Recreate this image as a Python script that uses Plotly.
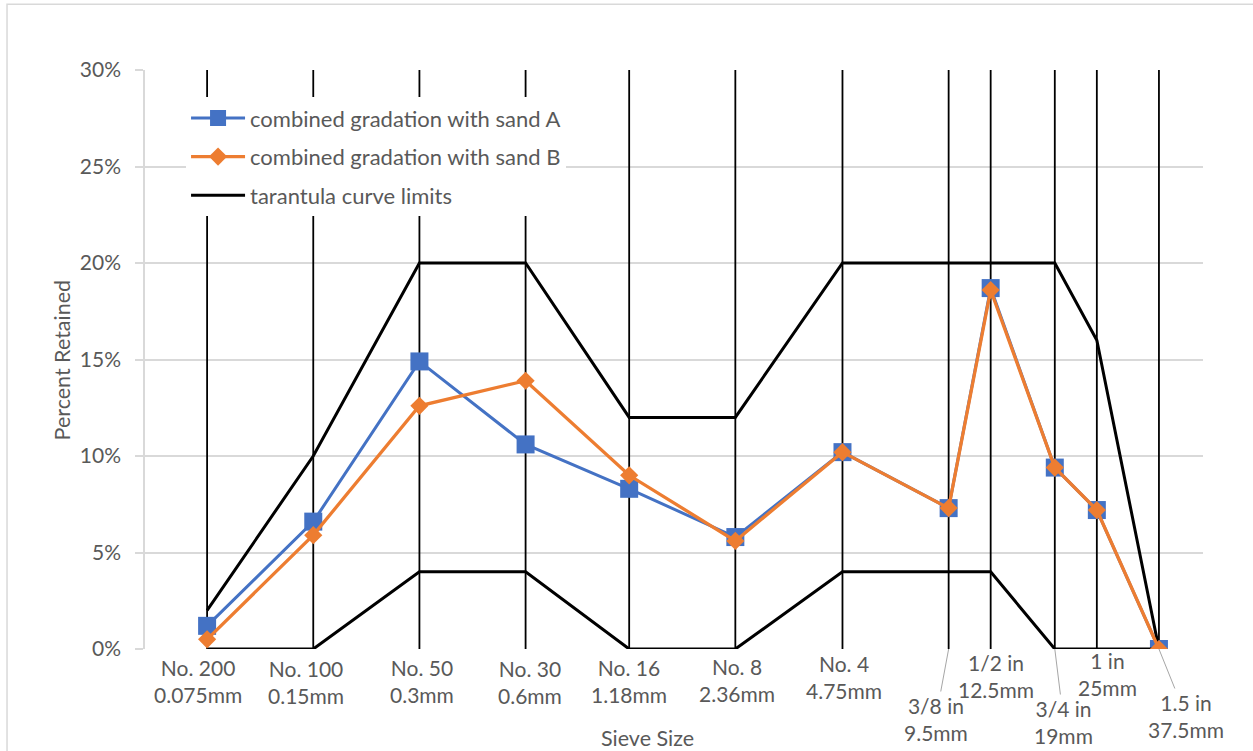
import math
import plotly.graph_objects as go

# Sieve openings (mm) and their labels
sieve_mm = [0.075, 0.15, 0.3, 0.6, 1.18, 2.36, 4.75, 9.5, 12.5, 19, 25, 37.5]
sieve_names = ["No. 200", "No. 100", "No. 50", "No. 30", "No. 16", "No. 8",
               "No. 4", "3/8 in", "1/2 in", "3/4 in", "1 in", "1.5 in"]
sieve_mm_text = ["0.075mm", "0.15mm", "0.3mm", "0.6mm", "1.18mm", "2.36mm",
                 "4.75mm", "9.5mm", "12.5mm", "19mm", "25mm", "37.5mm"]

# Percent retained on each sieve
sand_a = [0.012, 0.066, 0.149, 0.106, 0.083, 0.058, 0.102, 0.073, 0.187, 0.094, 0.072, 0.0]
sand_b = [0.005, 0.059, 0.126, 0.139, 0.090, 0.056, 0.102, 0.073, 0.186, 0.094, 0.072, 0.0]

# Tarantula curve limits
upper_limit = [0.02, 0.10, 0.20, 0.20, 0.12, 0.12, 0.20, 0.20, 0.20, 0.20, 0.16, 0.0]
lower_limit = [0.0, 0.0, 0.04, 0.04, 0.0, 0.0, 0.04, 0.04, 0.04, 0.0, 0.0, 0.0]

FONT = "Lato"
GREY_TEXT = "#595959"
BLUE = "#4472C4"
ORANGE = "#ED7D31"

fig = go.Figure()

# vertical guide line at every sieve size
vx, vy = [], []
for s in sieve_mm:
    vx += [s, s, None]
    vy += [0, 0.30, None]
fig.add_trace(go.Scatter(x=vx, y=vy, mode="lines", line=dict(color="black", width=1.8),
                         showlegend=False, hoverinfo="skip"))

fig.add_trace(go.Scatter(x=sieve_mm, y=sand_a, mode="lines+markers",
                         name="combined gradation with sand A", legendgroup="a", legendrank=1,
                         line=dict(color=BLUE, width=3),
                         marker=dict(symbol="square", size=18, color=BLUE)))

# limits: upper and lower share one legend entry
fig.add_trace(go.Scatter(x=sieve_mm, y=upper_limit, mode="lines",
                         name="tarantula curve limits", legendgroup="c", legendrank=3,
                         line=dict(color="black", width=3)))
fig.add_trace(go.Scatter(x=sieve_mm, y=lower_limit, mode="lines",
                         name="tarantula curve limits", legendgroup="c", legendrank=3,
                         showlegend=False, line=dict(color="black", width=3)))

fig.add_trace(go.Scatter(x=sieve_mm, y=sand_b, mode="lines+markers",
                         name="combined gradation with sand B", legendgroup="b", legendrank=2,
                         line=dict(color=ORANGE, width=3.3),
                         marker=dict(symbol="diamond", size=14, color=ORANGE)))

# sieve labels below the axis; a few are pushed down with leader lines
label_offsets = {
    "3/8 in": (-13, 70),
    "3/4 in": (9, 73),
    "1.5 in": (27, 67),
}
label_shift = {
    "No. 200": (-9, -32), "No. 100": (-7, -33), "No. 50": (3, -32), "No. 30": (4, -33),
    "No. 16": (0, -32), "No. 8": (2, -31), "No. 4": (2, -28),
    "1/2 in": (5, -27), "1 in": (11, -25),
}
for s, n, m in zip(sieve_mm, sieve_names, sieve_mm_text):
    txt = f"{n}<br>{m}"
    if n in label_offsets:
        ax, ay = label_offsets[n]
        fig.add_annotation(x=math.log10(s), y=0, text=txt, showarrow=True,
                           arrowhead=0, arrowwidth=1, arrowcolor="#A6A6A6",
                           ax=ax, ay=ay, standoff=0,
                           font=dict(family=FONT, size=21, color=GREY_TEXT))
    else:
        dx, dy = label_shift[n]
        fig.add_annotation(x=math.log10(s), y=0, text=txt, showarrow=False,
                           xshift=dx, yshift=dy, yanchor="middle",
                           font=dict(family=FONT, size=21, color=GREY_TEXT))

# axis titles
fig.add_annotation(xref="paper", yref="paper", x=0.4745, y=-0.1539, text="Sieve Size",
                   xanchor="center", yanchor="middle", showarrow=False,
                   font=dict(family=FONT, size=21.5, color=GREY_TEXT))
fig.add_annotation(xref="paper", yref="paper", x=-0.0785, y=0.5, text="Percent Retained",
                   xanchor="center", yanchor="middle", textangle=-90, showarrow=False,
                   font=dict(family=FONT, size=21.5, color=GREY_TEXT))

# outer chart border
fig.add_shape(type="rect", xref="paper", yref="paper", x0=-0.1304, x1=1.2, y0=-0.3, y1=1.1134,
              line=dict(color="#D9D9D9", width=1.5), fillcolor="rgba(0,0,0,0)", layer="below")

fig.update_layout(
    width=1253, height=751,
    margin=dict(l=145, r=50, t=70, b=102),
    paper_bgcolor="white", plot_bgcolor="white",
    font=dict(family=FONT, color=GREY_TEXT),
    xaxis=dict(type="log", range=[math.log10(0.05), math.log10(50)],
               showticklabels=False, showgrid=False, zeroline=False,
               showline=False, ticks=""),
    yaxis=dict(range=[0, 0.30], tickvals=[0, 0.05, 0.10, 0.15, 0.20, 0.25, 0.30],
               tickformat=".0%", showgrid=True, gridcolor="#D9D9D9", gridwidth=1.5,
               showline=True, linecolor="#D9D9D9", linewidth=1.5,
               ticks="outside", ticklen=8, tickcolor="#D9D9D9", tickwidth=1.5,
               ticklabelstandoff=10,
               tickfont=dict(family=FONT, size=21, color=GREY_TEXT), zeroline=False),
    legend=dict(x=0.0388, y=0.953, xanchor="left", yanchor="top",
                bgcolor="white", borderwidth=0, tracegroupgap=7,
                itemwidth=54, traceorder="grouped",
                font=dict(family=FONT, size=22, color=GREY_TEXT)),
)

fig.write_html("out.html")
